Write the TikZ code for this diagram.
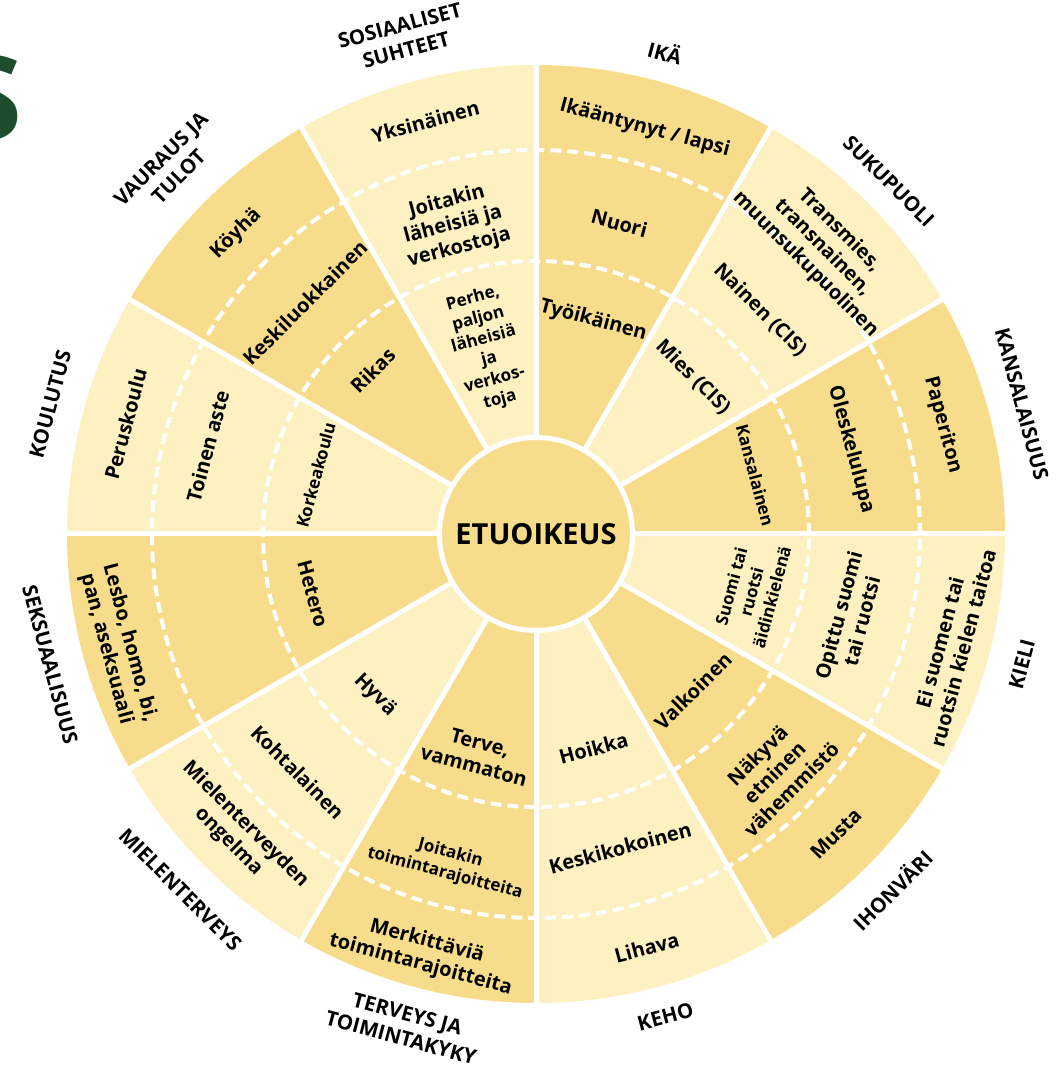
\documentclass[tikz,border=0pt]{standalone}
\usepackage{fontspec}
\setmainfont{Open Sans}
\definecolor{wheeldark}{HTML}{F7DD8B}
\definecolor{wheellight}{HTML}{FDF0C1}
\definecolor{titlegreen}{HTML}{1E4D2D}

\begin{document}
\begin{tikzpicture}[x=1pt,y=1pt,
    every node/.style={align=center,inner sep=0pt,font=\bfseries\fontsize{20}{24}\selectfont},
    small/.style={font=\bfseries\fontsize{17}{21}\selectfont},
    axis/.style={font=\bfseries\fontsize{20.5}{25}\selectfont}]

    \useasboundingbox (-536,-531) rectangle (523,534);

    % Title letter cut by the edge
    \node[anchor=base east,text=titlegreen,font=\bfseries\fontsize{116}{116}\selectfont] (title) at (-513,394) {S};

    % Sectors, dark and light in turn
    \foreach \a/\c in {0/wheeldark,30/wheellight,60/wheeldark,90/wheellight,
                       120/wheeldark,150/wheellight,180/wheeldark,210/wheellight,
                       240/wheeldark,270/wheellight,300/wheeldark,330/wheellight} {
      \fill[\c] (0,0) -- (\a:469) arc[start angle=\a, end angle=\a+30, radius=469] -- cycle;
    }

    % Dashed ring borders
    \foreach \r in {273,384} {
      \draw[white,line width=4pt,dash pattern=on 11pt off 6pt] (0,0) circle[radius=\r];
    }

    % Spokes
    \foreach \a in {0,30,...,330} {
      \draw[white,line width=5pt] (\a:90) -- (\a:472);
    }

    % Centre
    \node[circle,fill=wheeldark,draw=white,line width=5pt,minimum size=193pt,
          font=\bfseries\fontsize{29}{29}\selectfont] (centre) at (0,0) {ETUOIKEUS};

    % Ika
    \node[rotate=-15] (ika3) at (75:420) {Ikääntynyt / lapsi};
    \node[rotate=-15] (ika2) at (75:322) {Nuori};
    \node[rotate=-15] (ika1) at (75:221) {Työikäinen};

    % Sukupuoli
    \node[rotate=-45] (suku3) at (45:405) {Transmies,\\transnainen,\\muunsukupuolinen};
    \node[rotate=-45] (suku2) at (45:317) {Nainen (CIS)};
    \node[rotate=-45] (suku1) at (45:222) {Mies (CIS)};

    % Kansalaisuus
    \node[rotate=-75] (kans3) at (15:421) {Paperiton};
    \node[rotate=-75] (kans2) at (15:326) {Oleskelulupa};
    \node[rotate=-75,small] (kans1) at (15:227) {Kansalainen};

    % Kieli
    \node[rotate=75] (kieli3) at (-15:430) {Ei suomen tai\\ruotsin kielen taitoa};
    \node[rotate=75] (kieli2) at (-15:325) {Opittu suomi\\tai ruotsi};
    \node[rotate=75,small] (kieli1) at (-15:223) {Suomi tai\\ruotsi\\äidinkielenä};

    % Ihonvari
    \node[rotate=45] (iho3) at (-45:424) {Musta};
    \node[rotate=45] (iho2) at (-45:337) {Näkyvä\\etninen\\vähemmistö};
    \node[rotate=45] (iho1) at (-45:222) {Valkoinen};

    % Keho
    \node[rotate=15] (keho3) at (-75:428) {Lihava};
    \node[rotate=15] (keho2) at (-75:325) {Keskikokoinen};
    \node[rotate=15] (keho1) at (-75:222) {Hoikka};

    % Terveys
    \node[rotate=-15] (terv3) at (-105:434) {Merkittäviä\\toimintarajoitteita};
    \node[rotate=-15,small] (terv2) at (-105:341) {Joitakin\\toimintarajoitteita};
    \node[rotate=-15] (terv1) at (-105:228) {Terve,\\vammaton};

    % Mielenterveys
    \node[rotate=-45] (miel3) at (-135:423) {Mielenterveyden\\ongelma};
    \node[rotate=-45] (miel2) at (-135:337) {Kohtalainen};
    \node[rotate=-45] (miel1) at (-135:228) {Hyvä};

    % Seksuaalisuus
    \node[rotate=-75] (seks3) at (-165:433) {Lesbo, homo, bi,\\pan, aseksuaali};
    \node[rotate=-75] (seks1) at (-165:231) {Hetero};

    % Koulutus
    \node[rotate=75] (koul3) at (165:425) {Peruskoulu};
    \node[rotate=75] (koul2) at (165:340) {Toinen aste};
    \node[rotate=75,small] (koul1) at (165:228) {Korkeakoulu};

    % Vauraus
    \node[rotate=45] (vaur3) at (135:424) {Köyhä};
    \node[rotate=45] (vaur2) at (135:327) {Keskiluokkainen};
    \node[rotate=45] (vaur1) at (135:231) {Rikas};

    % Sosiaaliset suhteet
    \node[rotate=15] (sos3) at (105:427) {Yksinäinen};
    \node[rotate=15] (sos2) at (105:320) {Joitakin\\läheisiä ja\\verkostoja};
    \node[rotate=15,small] (sos1) at (105:191) {Perhe,\\paljon\\läheisiä\\ja\\verkos-\\toja};

    % Labels round the wheel
    \node[axis,rotate=-15] (lika)  at (75:499)   {IKÄ};
    \node[axis,rotate=-45] (lsuku) at (45:499)   {SUKUPUOLI};
    \node[axis,rotate=-75] (lkans) at (15:503)   {KANSALAISUUS};
    \node[axis,rotate=75]  (lkieli) at (-15:503) {KIELI};
    \node[axis,rotate=45]  (liho)  at (-45:503)  {IHONVÄRI};
    \node[axis,rotate=15]  (lkeho) at (-75:500)  {KEHO};
    \node[axis,rotate=-15] (lterv) at (-105:509) {TERVEYS JA\\TOIMINTAKYKY};
    \node[axis,rotate=-45] (lmiel) at (-135:503) {MIELENTERVEYS};
    \node[axis,rotate=-75] (lseks) at (-165:503) {SEKSUAALISUUS};
    \node[axis,rotate=75]  (lkoul) at (165:503)  {KOULUTUS};
    \node[axis,rotate=45]  (lvaur) at (135:518)  {VAURAUS JA\\TULOT};
    \node[axis,rotate=15]  (lsos)  at (105:514)  {SOSIAALISET\\SUHTEET};

\end{tikzpicture}
\end{document}
